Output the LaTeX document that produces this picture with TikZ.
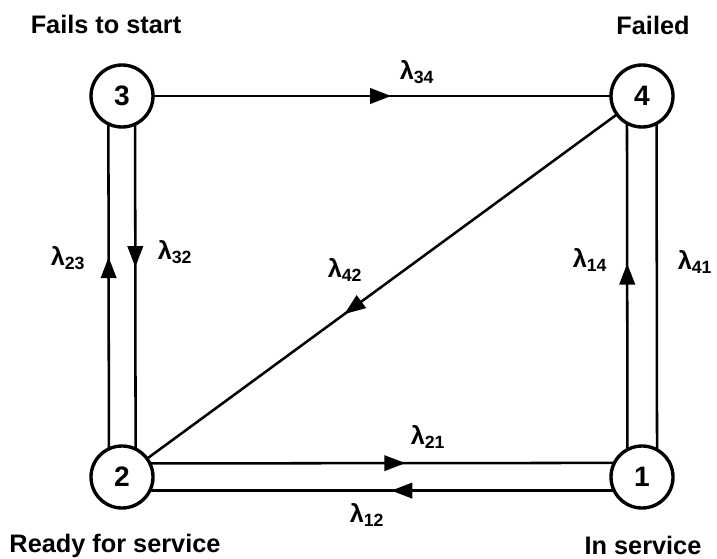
\documentclass[tikz,border=0pt]{standalone}
\usepackage{fontspec}
\setmainfont{Liberation Sans}
\usetikzlibrary{arrows.meta,decorations.markings}

\tikzset{
  state/.style={draw,circle,line width=2.4pt,minimum size=1.55cm,inner sep=0pt,outer sep=0pt,
    font=\fontsize{20}{22}\selectfont\bfseries},
  trans/.style={line width=1.8pt},
  midarrow/.style={decoration={markings,mark=at position #1 with {\arrow{Triangle[length=15pt,width=11pt]}}},
    postaction={decorate}},
  rate/.style={font=\fontsize{18}{20}\selectfont\bfseries,inner sep=1pt},
  caption/.style={font=\fontsize{18}{20}\selectfont\bfseries,inner sep=0pt}
}

\begin{document}
\begin{tikzpicture}[x=0.025cm,y=-0.025cm,line cap=round,line join=round]
  \useasboundingbox (0,0) rectangle (717,559);
  % states
  \node[state] (S3) at (122,96) {3};
  \node[state] (S4) at (642,96) {4};
  \node[state] (S2) at (122,477) {2};
  \node[state] (S1) at (642,477) {1};
  % transitions
  \draw[trans,midarrow=0.52] (S3) -- (S4);
  \draw[trans,midarrow=0.59] (S2.115.8) -- (S3.244.2);
  \draw[trans,midarrow=0.44] (S3.295.8) -- (S2.64.2);
  \draw[trans,midarrow=0.57] (S1.118.9) -- (S4.241.1);
  \draw[trans] (S4.298.9) -- (S1.61.1);
  \draw[trans,midarrow=0.55] (S2.26.8) -- (S1.153.2);
  \draw[trans,midarrow=0.48] (S1.206.8) -- (S2.-26.8);
  \draw[trans,midarrow=0.58] (S4) -- (S2);
  % rates
  \node[rate] (l34) at (417,72) {λ\textsubscript{34}};
  \node[rate] (l23) at (68,258) {λ\textsubscript{23}};
  \node[rate] (l32) at (175,252) {λ\textsubscript{32}};
  \node[rate] (l14) at (590,260) {λ\textsubscript{14}};
  \node[rate] (l41) at (695,262) {λ\textsubscript{41}};
  \node[rate] (l21) at (428,437) {λ\textsubscript{21}};
  \node[rate] (l12) at (367,515) {λ\textsubscript{12}};
  \node[rate] (l42) at (345,270) {λ\textsubscript{42}};
  % state names
  \node[caption] (fails) at (106,24) {Fails to start};
  \node[caption] (failed) at (653,25) {Failed};
  \node[caption] (ready) at (115,546) {Ready for service};
  \node[caption] (inserv) at (643,545) {In service};
\end{tikzpicture}
\end{document}
